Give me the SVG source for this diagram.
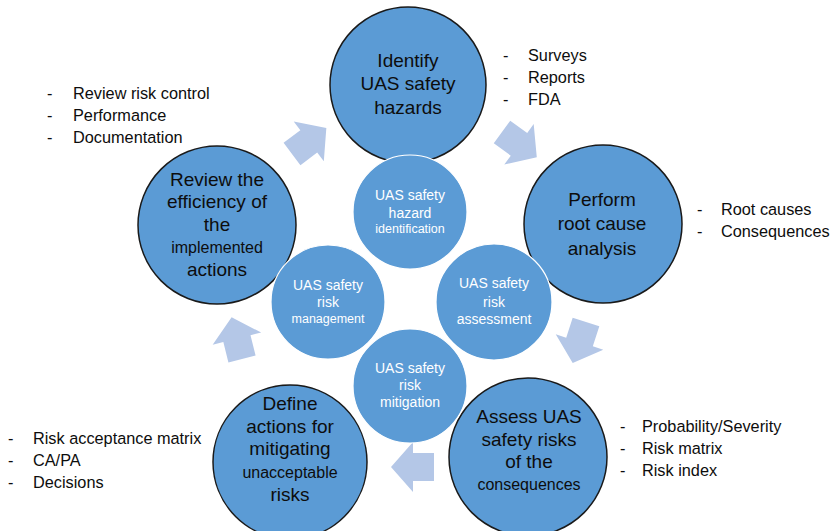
<svg xmlns="http://www.w3.org/2000/svg" width="831" height="531" viewBox="0 0 831 531">
<style>
  .outer { fill: #5B9BD5; stroke: #1a1a1a; stroke-width: 1.5; }
  .inner { fill: #5B9BD5; stroke: #ffffff; stroke-width: 1.2; }
  .big { font-family: "Liberation Sans", Arial, sans-serif; font-size: 19px; fill: #0d0d0d; text-anchor: middle; }
  .mid { font-family: "Liberation Sans", Arial, sans-serif; font-size: 16px; fill: #0d0d0d; text-anchor: middle; }
  .w { font-family: "Liberation Sans", Arial, sans-serif; font-size: 14px; fill: #ffffff; text-anchor: middle; }
  .ws { font-family: "Liberation Sans", Arial, sans-serif; font-size: 12.5px; fill: #ffffff; text-anchor: middle; }
  .bl { font-family: "Liberation Sans", Arial, sans-serif; font-size: 16.3px; fill: #0d0d0d; }
  .arrow { fill: #B4C7E7; }
</style>
<defs>
  <path id="blk" d="M0,-14 L21,-14 L21,-25 L43,0 L21,25 L21,14 L0,14 Z"/>
</defs>
<rect width="831" height="531" fill="#ffffff"/>

<g id="connectors">
  <use href="#blk" class="arrow" transform="translate(292,154) rotate(-37)"/>
  <use href="#blk" class="arrow" transform="translate(502,132) rotate(36)"/>
  <use href="#blk" class="arrow" transform="translate(586,322) rotate(108)"/>
  <use href="#blk" class="arrow" transform="translate(434,467) rotate(180)"/>
  <use href="#blk" class="arrow" transform="translate(242,359) rotate(-104)"/>
</g>

<g id="identify">
  <circle class="outer" cx="408" cy="85" r="78"/>
  <text class="big" x="408" y="67">Identify</text>
  <text class="big" x="408" y="90">UAS safety</text>
  <text class="big" x="408" y="114">hazards</text>
</g>
<g id="perform">
  <circle class="outer" cx="603" cy="224" r="79"/>
  <text class="big" x="602" y="206">Perform</text>
  <text class="big" x="602" y="230">root cause</text>
  <text class="big" x="602" y="255">analysis</text>
</g>
<g id="assess">
  <circle class="outer" cx="528" cy="457" r="79"/>
  <text class="big" x="529" y="423">Assess UAS</text>
  <text class="big" x="529" y="446">safety risks</text>
  <text class="big" x="529" y="468">of the</text>
  <text class="mid" x="529" y="490">consequences</text>
</g>
<g id="define">
  <circle class="outer" cx="290" cy="462" r="77"/>
  <text class="big" x="290" y="410">Define</text>
  <text class="big" x="290" y="433">actions for</text>
  <text class="big" x="290" y="455">mitigating</text>
  <text class="mid" x="290" y="478">unacceptable</text>
  <text class="big" x="290" y="501">risks</text>
</g>
<g id="review">
  <circle class="outer" cx="217" cy="225" r="79"/>
  <text class="big" x="217" y="186">Review the</text>
  <text class="big" x="217" y="208">efficiency of</text>
  <text class="big" x="217" y="231">the</text>
  <text class="mid" x="217" y="253">implemented</text>
  <text class="big" x="217" y="276">actions</text>
</g>

<g id="hazard-identification">
  <circle class="inner" cx="410" cy="212" r="57"/>
  <text class="w" x="410" y="200">UAS safety</text>
  <text class="w" x="410" y="218">hazard</text>
  <text class="ws" x="410" y="233">identification</text>
</g>
<g id="risk-assessment">
  <circle class="inner" cx="494" cy="302" r="58"/>
  <text class="w" x="494" y="288">UAS safety</text>
  <text class="w" x="494" y="307">risk</text>
  <text class="w" x="494" y="324">assessment</text>
</g>
<g id="risk-management">
  <circle class="inner" cx="328" cy="302" r="57"/>
  <text class="w" x="328" y="290">UAS safety</text>
  <text class="w" x="328" y="307">risk</text>
  <text class="ws" x="328" y="323">management</text>
</g>
<g id="risk-mitigation">
  <circle class="inner" cx="410" cy="386" r="57"/>
  <text class="w" x="410" y="373">UAS safety</text>
  <text class="w" x="410" y="390">risk</text>
  <text class="w" x="410" y="407">mitigation</text>
</g>

<g id="list-identify">
  <text class="bl" x="503" y="61">-</text><text class="bl" x="528" y="61">Surveys</text>
  <text class="bl" x="503" y="83">-</text><text class="bl" x="528" y="83">Reports</text>
  <text class="bl" x="503" y="105">-</text><text class="bl" x="528" y="105">FDA</text>
</g>
<g id="list-perform">
  <text class="bl" x="697" y="215">-</text><text class="bl" x="721" y="215">Root causes</text>
  <text class="bl" x="697" y="237">-</text><text class="bl" x="721" y="237">Consequences</text>
</g>
<g id="list-review">
  <text class="bl" x="47" y="99">-</text><text class="bl" x="73" y="99">Review risk control</text>
  <text class="bl" x="47" y="121">-</text><text class="bl" x="73" y="121">Performance</text>
  <text class="bl" x="47" y="143">-</text><text class="bl" x="73" y="143">Documentation</text>
</g>
<g id="list-assess">
  <text class="bl" x="620" y="432">-</text><text class="bl" x="642" y="432">Probability/Severity</text>
  <text class="bl" x="620" y="454">-</text><text class="bl" x="642" y="454">Risk matrix</text>
  <text class="bl" x="620" y="476">-</text><text class="bl" x="642" y="476">Risk index</text>
</g>
<g id="list-define">
  <text class="bl" x="8" y="444">-</text><text class="bl" x="33" y="444">Risk acceptance matrix</text>
  <text class="bl" x="8" y="466">-</text><text class="bl" x="33" y="466">CA/PA</text>
  <text class="bl" x="8" y="488">-</text><text class="bl" x="33" y="488">Decisions</text>
</g>
</svg>
